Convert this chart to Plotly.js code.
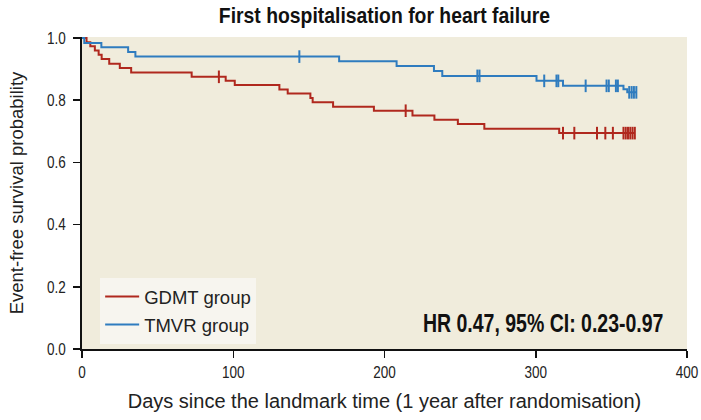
<!DOCTYPE html>
<html>
<head>
<meta charset="utf-8">
<script src="https://cdn.plot.ly/plotly-3.0.1.min.js"></script>
<style>
  html, body { margin: 0; padding: 0; background: #ffffff; }
  #chart { width: 701px; height: 420px; }
</style>
</head>
<body>
<div id="chart"></div>
<script>
// ---- Data (Kaplan-Meier estimates) ----
const gdmtEventDays = [0, 3, 5.5, 8.5, 11, 13, 18, 25, 32.5, 72.5, 95, 101, 130.5, 136, 151, 152.5, 166, 193, 218.5, 233, 248.5, 266, 315.5];
const gdmtSurvival  = [1.0, 0.986, 0.973, 0.960, 0.946, 0.932, 0.917, 0.903, 0.889, 0.875, 0.862, 0.849, 0.834, 0.821, 0.807, 0.793, 0.779, 0.766, 0.751, 0.737, 0.723, 0.708, 0.694];
const gdmtCensorDays = [90.5, 214, 318, 325.5, 340.5, 346, 351, 358, 359.5, 361, 362.5, 364, 365.5];

const tmvrEventDays = [0, 1.5, 12.8, 30.5, 35.3, 170, 208, 232.7, 238.2, 300.5, 318, 358, 360.5];
const tmvrSurvival  = [1.0, 0.984, 0.970, 0.955, 0.940, 0.925, 0.910, 0.894, 0.878, 0.862, 0.846, 0.835, 0.825];
const tmvrCensorDays = [143.7, 261.4, 262.8, 305.6, 313.7, 314.9, 333, 346.8, 348.3, 353, 354.3, 361.8, 363.4, 364.9, 366.5];

const seriesNames = ["GDMT group", "TMVR group"];
const xTicks = [0, 100, 200, 300, 400];
const yTicks = [0.0, 0.2, 0.4, 0.6, 0.8, 1.0];
const chartTitle = "First hospitalisation for heart failure";
const xTitle = "Days since the landmark time (1 year after randomisation)";
const yTitle = "Event-free survival probability";
const hrText = "HR 0.47, 95% CI: 0.23-0.97";

// ---- Helpers ----
function stepAt(days, surv, t) {
  let s = surv[0];
  for (let i = 0; i < days.length; i++) { if (days[i] <= t) s = surv[i]; }
  return s;
}
function curve(days, surv, censors) {
  const end = Math.max(days[days.length - 1], ...censors);
  return { x: days.concat([end]), y: surv.concat([surv[surv.length - 1]]) };
}

const RED = "#b0281e";
const BLUE = "#2f7cbf";

const gC = curve(gdmtEventDays, gdmtSurvival, gdmtCensorDays);
const tC = curve(tmvrEventDays, tmvrSurvival, tmvrCensorDays);

const traces = [
  { x: gC.x, y: gC.y, type: "scatter", mode: "lines", line: { shape: "hv", color: RED, width: 2 },
    name: seriesNames[0], legendgroup: "g", hoverinfo: "skip" },
  { x: tC.x, y: tC.y, type: "scatter", mode: "lines", line: { shape: "hv", color: BLUE, width: 2 },
    name: seriesNames[1], legendgroup: "t", hoverinfo: "skip" },
  { x: gdmtCensorDays, y: gdmtCensorDays.map(t => stepAt(gdmtEventDays, gdmtSurvival, t)),
    type: "scatter", mode: "markers", showlegend: false, legendgroup: "g", hoverinfo: "skip",
    marker: { symbol: "line-ns-open", size: 9, color: RED, line: { color: RED, width: 2 } } },
  { x: tmvrCensorDays, y: tmvrCensorDays.map(t => stepAt(tmvrEventDays, tmvrSurvival, t)),
    type: "scatter", mode: "markers", showlegend: false, legendgroup: "t", hoverinfo: "skip",
    marker: { symbol: "line-ns-open", size: 9, color: BLUE, line: { color: BLUE, width: 2 } } }
];

const SANS = "Liberation Sans, Arial, sans-serif";

const layout = {
  width: 701, height: 420,
  margin: { l: 82, r: 14, t: 37, b: 71, pad: 0 },
  paper_bgcolor: "#ffffff",
  plot_bgcolor: "#f0ecdc",
  title: { text: chartTitle, font: { family: SANS, size: 22, color: "#111111", weight: 700 },
           x: 0.5, xref: "paper", xanchor: "center", y: 1 - 15/420, yref: "container", yanchor: "middle" },
  xaxis: {
    range: [0, 400], tickvals: xTicks, ticktext: xTicks.map(String),
    showgrid: false, zeroline: false, showline: true, linecolor: "#111", linewidth: 2,
    ticks: "outside", ticklen: 7, tickwidth: 1.5, tickcolor: "#111",
    tickfont: { family: SANS, size: 16.5, color: "#222" },
    title: { text: xTitle, font: { family: SANS, size: 20, color: "#222" }, standoff: 14 },
    automargin: false
  },
  yaxis: {
    range: [0, 1.003], tickvals: yTicks, ticktext: yTicks.map(v => v.toFixed(1)),
    showgrid: false, zeroline: false, showline: true, linecolor: "#111", linewidth: 2,
    ticks: "outside", ticklen: 7, tickwidth: 1.5, tickcolor: "#111",
    ticklabelstandoff: 4,
    tickfont: { family: SANS, size: 16.5, color: "#222" },
    title: { text: yTitle, font: { family: SANS, size: 18.5, color: "#222" }, standoff: 14 },
    automargin: false
  },
  legend: {
    x: 0.03, y: 0.228, xanchor: "left", yanchor: "top",
    bgcolor: "#f7f5ef", borderwidth: 0,
    font: { family: SANS, size: 18.5, color: "#222" },
    traceorder: "grouped", tracegroupgap: 1, itemwidth: 34,
    entrywidth: 132, entrywidthmode: "pixels"
  },
  annotations: [{
    text: hrText, xref: "paper", yref: "paper", x: 0.966, y: 0.083,
    xanchor: "right", yanchor: "middle", showarrow: false,
    font: { family: SANS, size: 25, color: "#111", weight: 700 }
  }],
  showlegend: true
};

// Horizontally condense text (the reference uses a condensed typeface)
function condense(root, selector, sx, anchor) {
  root.querySelectorAll(selector).forEach(el => {
    const b = el.getBBox();
    const ax = anchor === "end" ? b.x + b.width : anchor === "start" ? b.x : b.x + b.width / 2;
    const prev = el.getAttribute("transform") || "";
    el.setAttribute("transform", (prev + " translate(" + ax + ",0) scale(" + sx + ",1) translate(" + (-ax) + ",0)").trim());
  });
}

Plotly.newPlot("chart", traces, layout, { staticPlot: true, displayModeBar: false }).then(gd => {
  condense(gd, ".gtitle", 0.88, "middle");
  condense(gd, ".xtick text", 0.82, "middle");
  condense(gd, ".ytick text", 0.82, "end");
  condense(gd, ".annotation-text", 0.78, "end");
});
</script>
</body>
</html>
